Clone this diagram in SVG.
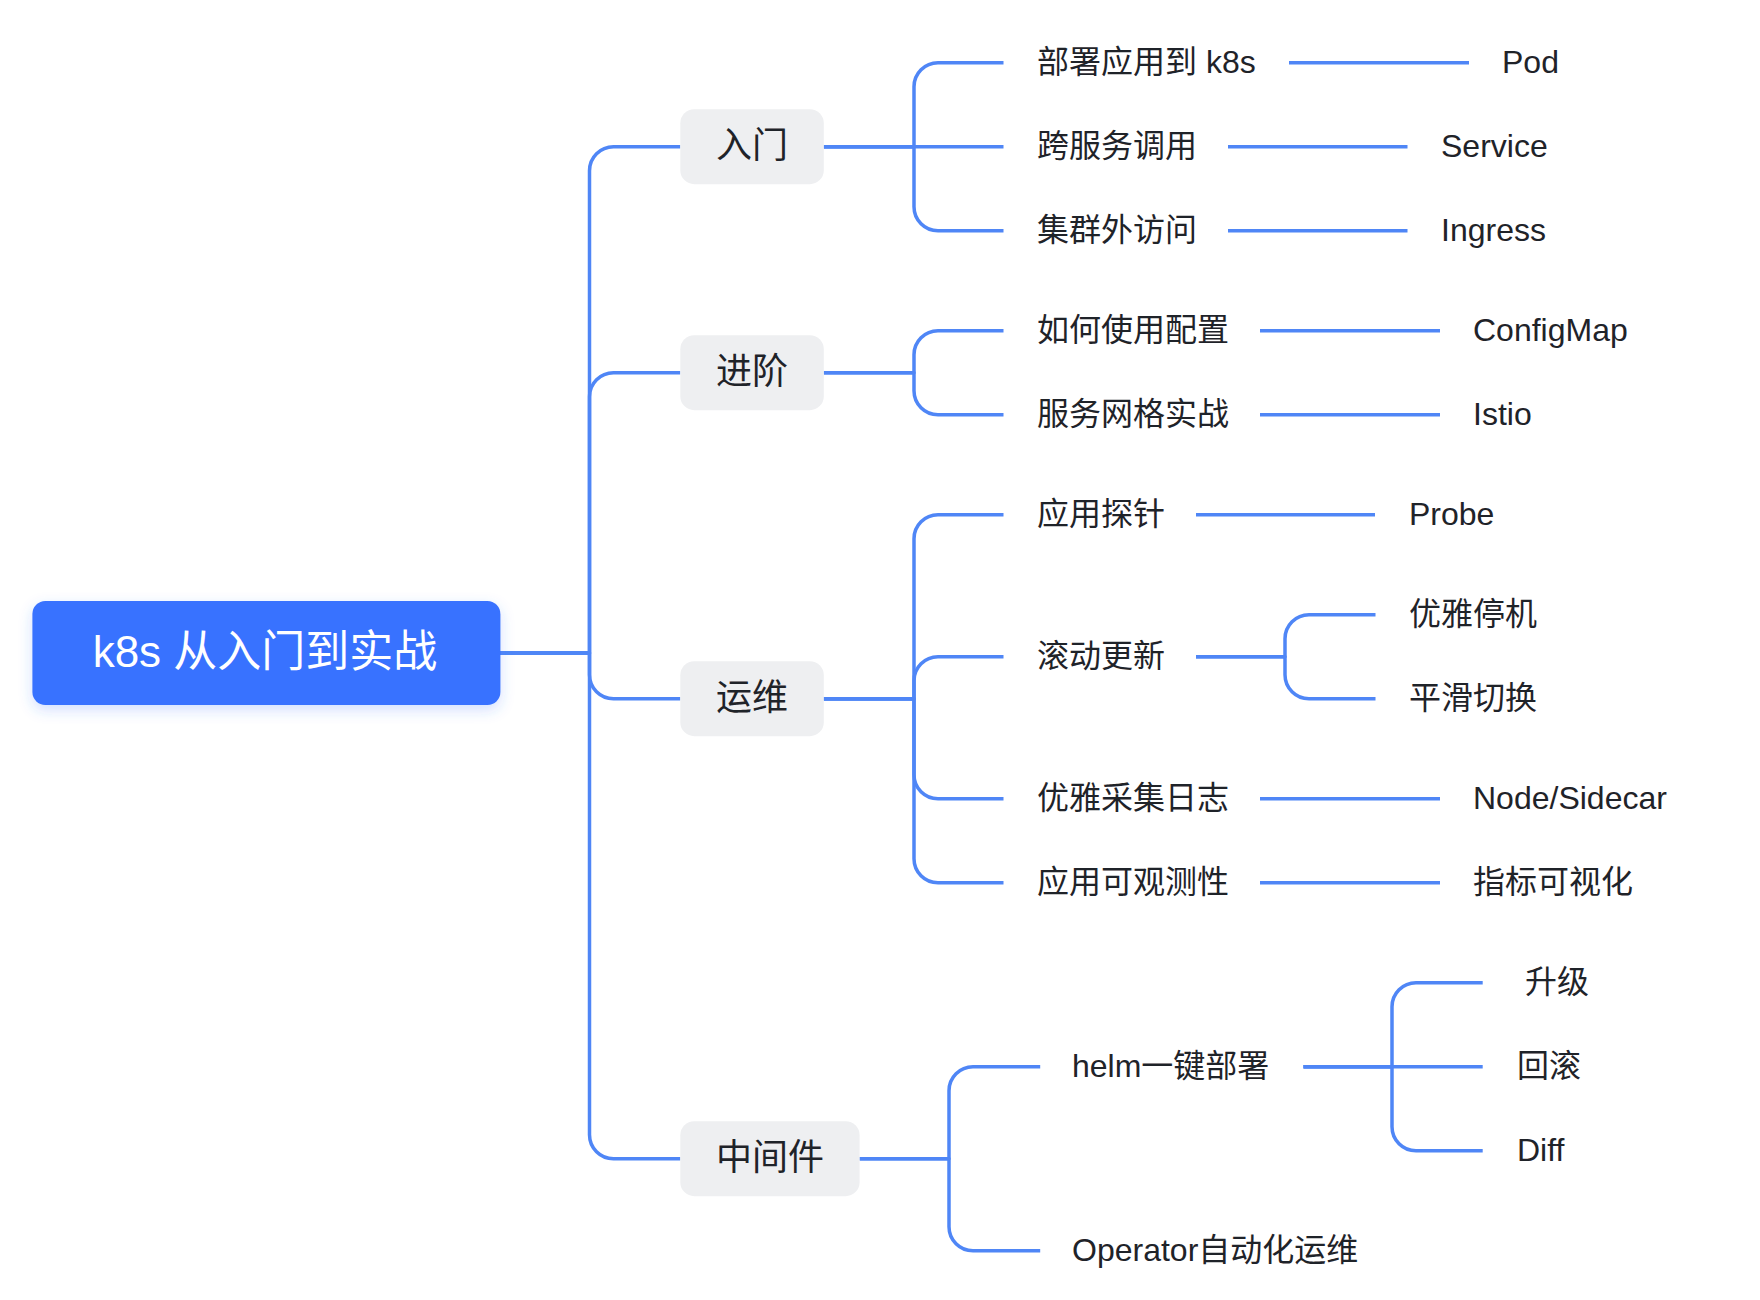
<svg xmlns="http://www.w3.org/2000/svg" width="1760" height="1300" viewBox="0 0 1760 1300">
<defs>
<style>
.conn{fill:none;stroke:#4F86F6;stroke-width:3.5;stroke-linecap:butt;stroke-linejoin:round}
.t{font-family:"Liberation Sans","Noto Sans CJK SC",sans-serif;font-size:32px;fill:#1F2329;dominant-baseline:central}
.t1{font-size:36px;text-anchor:middle}
.rt{font-size:44px;fill:#FFFFFF;text-anchor:middle}
.box1{fill:#EEEFF1}
.rootbox{fill:#3872FF}
</style>
<filter id="sh" x="-20%" y="-40%" width="140%" height="200%">
<feDropShadow dx="0" dy="5" stdDeviation="7" flood-color="#3872FF" flood-opacity="0.22"/>
</filter>
</defs>
<rect width="1760" height="1300" fill="#FFFFFF"/>
<g id="connectors">
<path class="conn" d="M500,653 H589.5 V170.7 A24,24 0 0 1 613.5,146.7 H680.3"/>
<path class="conn" d="M500,653 H589.5 V396.7 A24,24 0 0 1 613.5,372.7 H680.3"/>
<path class="conn" d="M500,653 H589.5 V674.7 A24,24 0 0 0 613.5,698.7 H680.3"/>
<path class="conn" d="M500,653 H589.5 V1134.7 A24,24 0 0 0 613.5,1158.7 H680.3"/>
<path class="conn" d="M823.8,146.7 H914 V86.7 A24,24 0 0 1 938,62.7 H1003.5"/>
<path class="conn" d="M823.8,146.7 H1003.5"/>
<path class="conn" d="M823.8,146.7 H914 V206.7 A24,24 0 0 0 938,230.7 H1003.5"/>
<path class="conn" d="M823.8,372.7 H914 V354.7 A24,24 0 0 1 938,330.7 H1003.5"/>
<path class="conn" d="M823.8,372.7 H914 V390.7 A24,24 0 0 0 938,414.7 H1003.5"/>
<path class="conn" d="M823.8,698.7 H914 V538.7 A24,24 0 0 1 938,514.7 H1003.5"/>
<path class="conn" d="M823.8,698.7 H914 V680.7 A24,24 0 0 1 938,656.7 H1003.5"/>
<path class="conn" d="M823.8,698.7 H914 V774.7 A24,24 0 0 0 938,798.7 H1003.5"/>
<path class="conn" d="M823.8,698.7 H914 V858.7 A24,24 0 0 0 938,882.7 H1003.5"/>
<path class="conn" d="M859.6,1158.7 H949 V1090.7 A24,24 0 0 1 973,1066.7 H1040.2"/>
<path class="conn" d="M859.6,1158.7 H949 V1226.7 A24,24 0 0 0 973,1250.7 H1040.2"/>
<path class="conn" d="M1289,62.7 H1469"/>
<path class="conn" d="M1228,146.7 H1407.5"/>
<path class="conn" d="M1228,230.7 H1407.5"/>
<path class="conn" d="M1260,330.7 H1440"/>
<path class="conn" d="M1260,414.7 H1440"/>
<path class="conn" d="M1196,514.7 H1375"/>
<path class="conn" d="M1196,656.7 H1285 V638.7 A24,24 0 0 1 1309,614.7 H1375.5"/>
<path class="conn" d="M1196,656.7 H1285 V674.7 A24,24 0 0 0 1309,698.7 H1375.5"/>
<path class="conn" d="M1260,798.7 H1440"/>
<path class="conn" d="M1260,882.7 H1440"/>
<path class="conn" d="M1303.5,1066.7 H1392 V1006.7 A24,24 0 0 1 1416,982.7 H1482.7"/>
<path class="conn" d="M1303.5,1066.7 H1482.7"/>
<path class="conn" d="M1303.5,1066.7 H1392 V1126.7 A24,24 0 0 0 1416,1150.7 H1482.7"/>
</g>
<g id="root">
<rect class="rootbox" x="32.4" y="601" width="468" height="104" rx="13" filter="url(#sh)"/>
<text class="t rt" x="265" y="651.5">k8s 从入门到实战</text>
</g>
<g id="n-rumen"><rect class="box1" x="680.3" y="109.2" width="143.5" height="75" rx="14"/><text class="t t1" x="752" y="145.5">入门</text></g>
<g id="n-jinjie"><rect class="box1" x="680.3" y="335.2" width="143.5" height="75" rx="14"/><text class="t t1" x="752" y="371.5">进阶</text></g>
<g id="n-yunwei"><rect class="box1" x="680.3" y="661.2" width="143.5" height="75" rx="14"/><text class="t t1" x="752" y="697.5">运维</text></g>
<g id="n-zhongjianjian"><rect class="box1" x="680.3" y="1121.2" width="179.3" height="75" rx="14"/><text class="t t1" x="770" y="1157.5">中间件</text></g>
<g id="n-bushu"><text class="t" x="1037" y="61.5">部署应用到 k8s</text></g>
<g id="n-kuafuwu"><text class="t" x="1037" y="145.5">跨服务调用</text></g>
<g id="n-jiqunwai"><text class="t" x="1037" y="229.5">集群外访问</text></g>
<g id="n-peizhi"><text class="t" x="1037" y="329.5">如何使用配置</text></g>
<g id="n-wangge"><text class="t" x="1037" y="413.5">服务网格实战</text></g>
<g id="n-tanzhen"><text class="t" x="1037" y="513.5">应用探针</text></g>
<g id="n-gundong"><text class="t" x="1037" y="655.5">滚动更新</text></g>
<g id="n-rizhi"><text class="t" x="1037" y="797.5">优雅采集日志</text></g>
<g id="n-guance"><text class="t" x="1037" y="881.5">应用可观测性</text></g>
<g id="n-helm"><text class="t" x="1072" y="1065.5">helm一键部署</text></g>
<g id="n-operator"><text class="t" x="1072" y="1249.5">Operator自动化运维</text></g>
<g id="n-pod"><text class="t" x="1502" y="61.5">Pod</text></g>
<g id="n-service"><text class="t" x="1441" y="145.5">Service</text></g>
<g id="n-ingress"><text class="t" x="1441" y="229.5">Ingress</text></g>
<g id="n-configmap"><text class="t" x="1473" y="329.5">ConfigMap</text></g>
<g id="n-istio"><text class="t" x="1473" y="413.5">Istio</text></g>
<g id="n-probe"><text class="t" x="1409" y="513.5">Probe</text></g>
<g id="n-tingji"><text class="t" x="1409" y="613.5">优雅停机</text></g>
<g id="n-qiehuan"><text class="t" x="1409" y="697.5">平滑切换</text></g>
<g id="n-sidecar"><text class="t" x="1473" y="797.5">Node/Sidecar</text></g>
<g id="n-zhibiao"><text class="t" x="1473" y="881.5">指标可视化</text></g>
<g id="n-shengji"><text class="t" x="1525" y="981.5">升级</text></g>
<g id="n-huigun"><text class="t" x="1517" y="1065.5">回滚</text></g>
<g id="n-diff"><text class="t" x="1517" y="1149.5">Diff</text></g>
</svg>
